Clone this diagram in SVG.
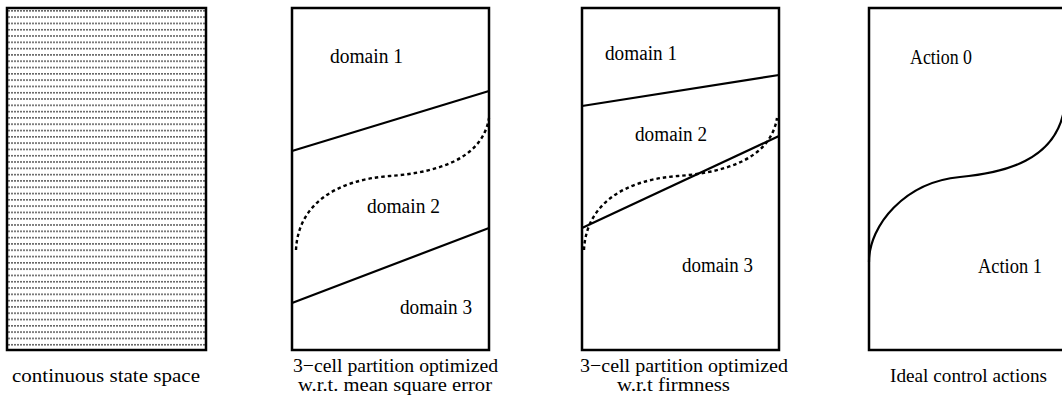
<svg xmlns="http://www.w3.org/2000/svg" width="1062" height="396" viewBox="0 0 1062 396">
<style>
.frame{fill:none;stroke:#000;stroke-width:2.5}
.bound{fill:none;stroke:#000;stroke-width:2.2}
.dash{fill:none;stroke:#000;stroke-width:2.4;stroke-dasharray:3.5 3}
.lbl{font-family:"Liberation Serif","Times New Roman",serif;font-size:19px;fill:#000}
.big{font-size:20px}
</style>
<defs>
<pattern id="dots" x="8" y="10" width="3" height="6.3" patternUnits="userSpaceOnUse">
<rect x="0" y="0" width="2" height="1.6" fill="#666"/>
</pattern>
</defs>
<rect width="1062" height="396" fill="#fff"/>
<g id="panel1">
<rect x="7" y="8" width="199" height="342" fill="url(#dots)"/>
<rect class="frame" x="7" y="8" width="199" height="342"/>
<text class="lbl" x="12" y="382" textLength="188" lengthAdjust="spacingAndGlyphs">continuous state space</text>
</g>
<g id="panel2">
<rect class="frame" x="292" y="8" width="197" height="342"/>
<text class="lbl big" x="330" y="63" textLength="73" lengthAdjust="spacingAndGlyphs">domain 1</text>
<text class="lbl big" x="367" y="213" textLength="73" lengthAdjust="spacingAndGlyphs">domain 2</text>
<text class="lbl big" x="400" y="314" textLength="72" lengthAdjust="spacingAndGlyphs">domain 3</text>
<text class="lbl" x="293" y="372" textLength="205" lengthAdjust="spacingAndGlyphs">3−cell partition optimized</text>
<text class="lbl" x="298" y="391" textLength="194" lengthAdjust="spacingAndGlyphs">w.r.t. mean square error</text>
</g>
<g id="panel3">
<rect class="frame" x="582" y="8" width="197" height="342"/>
<text class="lbl big" x="605" y="60" textLength="72" lengthAdjust="spacingAndGlyphs">domain 1</text>
<text class="lbl big" x="635" y="141" textLength="72" lengthAdjust="spacingAndGlyphs">domain 2</text>
<text class="lbl big" x="682" y="272" textLength="71" lengthAdjust="spacingAndGlyphs">domain 3</text>
<text class="lbl" x="580" y="372" textLength="208" lengthAdjust="spacingAndGlyphs">3−cell partition optimized</text>
<text class="lbl" x="617" y="391" textLength="113" lengthAdjust="spacingAndGlyphs">w.r.t firmness</text>
</g>
<g id="panel4">
<rect class="frame" x="869" y="8" width="197" height="342"/>
<text class="lbl big" x="910" y="64" textLength="62" lengthAdjust="spacingAndGlyphs">Action 0</text>
<text class="lbl big" x="978" y="273" textLength="64" lengthAdjust="spacingAndGlyphs">Action 1</text>
<text class="lbl" x="890" y="382" textLength="157" lengthAdjust="spacingAndGlyphs">Ideal control actions</text>
</g>
<g id="connectors">
<line class="bound" x1="292" y1="151" x2="489" y2="91"/>
<line class="bound" x1="292" y1="303" x2="489" y2="228"/>
<path class="dash" d="M296,250 C298,205 335,180 390,176 C430,173 482,162 489,118"/>
<line class="bound" x1="582" y1="106" x2="779" y2="75"/>
<line class="bound" x1="582" y1="228" x2="779" y2="136"/>
<path class="dash" transform="translate(288,0)" d="M296,250 C298,205 335,180 390,176 C430,173 482,162 489,118"/>
<path class="bound" d="M869,262 C869,225 905,182 960,177 C1005,173 1055,160 1064,110"/>
</g>
</svg>
